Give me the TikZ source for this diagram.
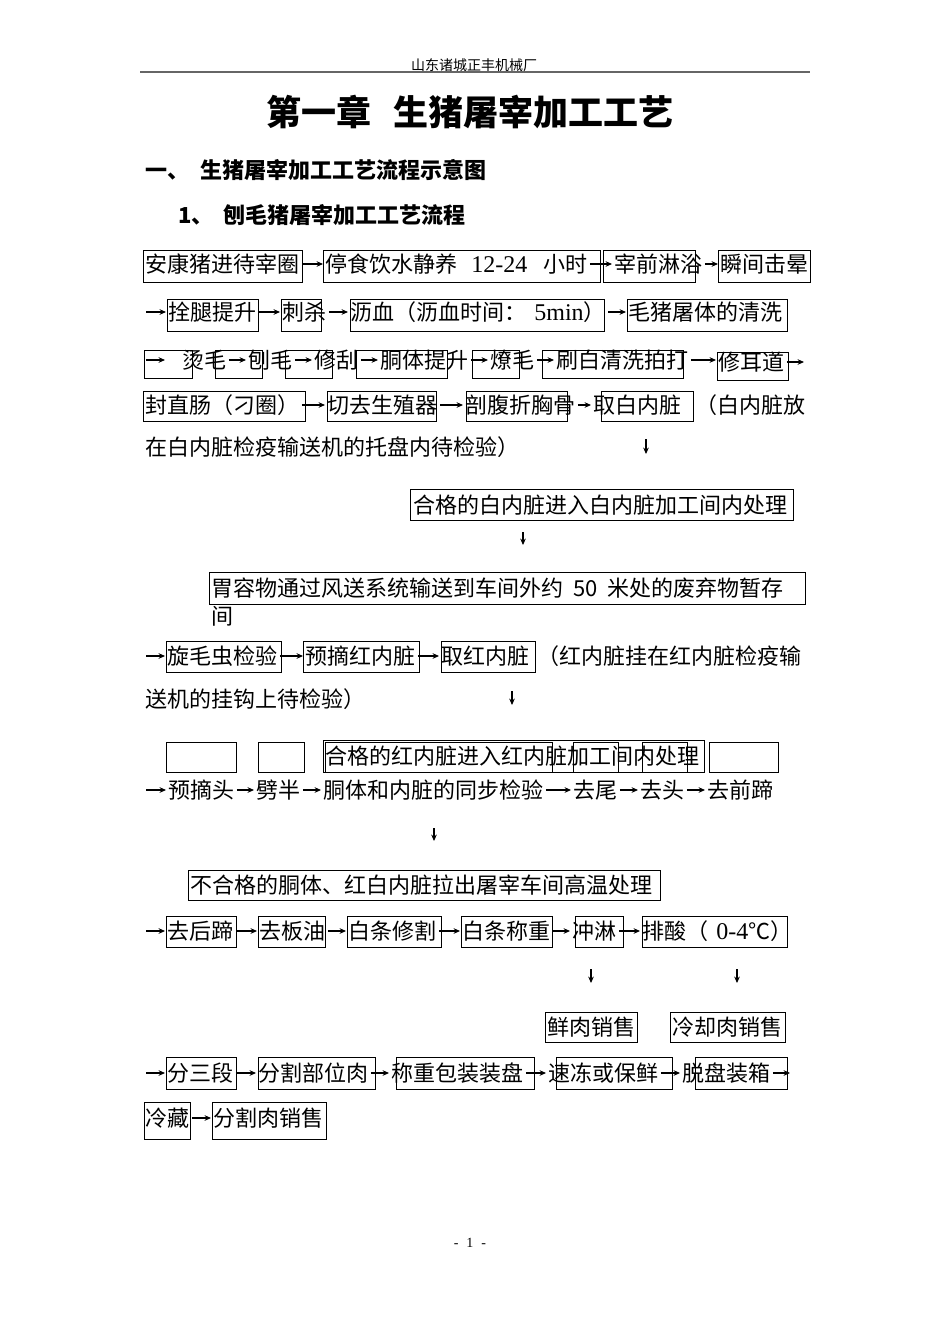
\documentclass[tikz,border=0pt]{standalone}
\usepackage{fontspec}
\setmainfont{Liberation Serif}
\newfontfamily\cjk{Noto Sans CJK SC}
\usetikzlibrary{arrows.meta}
\newcommand\bodyfont{\cjk\fontsize{11}{13}\selectfont}
\newcommand\latn{\rmfamily\fontsize{12}{13}\selectfont}

\begin{document}
\begin{tikzpicture}[x=0.5pt, y=-0.5pt, >={Stealth[length=3.2pt,width=2.8pt]},
    box/.style={draw, line width=0.5pt},
    txt/.style={anchor=west, inner sep=0pt, font=\bodyfont},
    arr/.style={->, line width=0.6pt, shorten <=1pt, shorten >=1pt}]
    \useasboundingbox[fill=white] (0,0) rectangle (950,1344);

    % Header and headings
    \node[inner sep=0pt, font=\cjk\fontsize{7}{8}\selectfont] (head) at (474,65) {山东诸城正丰机械厂};
    \draw[line width=1pt, gray!80!black] (140,72) -- (810,72);
    \node[inner sep=0pt, font=\cjk\bfseries\fontsize{17.5}{20}\selectfont] (title) at (470,112) {第一章\hspace{11.5pt}生猪屠宰加工工艺};
    \node[txt, font=\cjk\bfseries\fontsize{11}{13}\selectfont] (sec) at (145,170) {一、\hspace{5.5pt}生猪屠宰加工工艺流程示意图};
    \node[txt, font=\cjk\bfseries\fontsize{11}{13}\selectfont] (subsec) at (178,215) {1、\hspace{5pt}刨毛猪屠宰加工工艺流程};

    % Row 1
    \draw[box] (143,250) rectangle (302,282);
    \draw[box] (323,250) rectangle (600,282);
    \draw[box] (603,250) rectangle (695,282);
    \draw[box] (718,250) rectangle (810,282);
    \node[txt] (ankang) at (145,264) {安康猪进待宰圈};
    \node[txt] (jingyang) at (325,264) {停食饮水静养\hspace{7pt}{\latn 12-24}\hspace{8pt}小时};
    \node[txt] (linyu) at (614,264) {宰前淋浴};
    \node[txt] (jiyun) at (720,264) {瞬间击晕};
    \draw[arr] (ankang.east) -- (ankang.east -| jingyang.west);
    \draw[arr] (jingyang.east) -- (jingyang.east -| linyu.west);
    \draw[arr] (linyu.east) -- (linyu.east -| jiyun.west);

    % Row 2
    \coordinate (r2) at (144,312);
    \draw[box] (167,299) rectangle (258,331);
    \draw[box] (281,299) rectangle (321,331);
    \draw[box] (350,299) rectangle (604,331);
    \draw[box] (627,299) rectangle (787,331);
    \node[txt] (shuantui) at (168,312) {拴腿提升};
    \node[txt] (cisha) at (282,312) {刺杀};
    \node[txt] (lixue) at (350,312) {沥血（沥血时间：\hspace{4pt}{\latn 5min}）};
    \node[txt] (qingxi) at (628,312) {毛猪屠体的清洗};
    \draw[arr] (r2) -- (r2 -| shuantui.west);
    \draw[arr] (shuantui.east) -- (shuantui.east -| cisha.west);
    \draw[arr] (cisha.east) -- (cisha.east -| lixue.west);
    \draw[arr] (lixue.east) -- (lixue.east -| qingxi.west);

    % Row 3
    \coordinate (r3) at (144,360);
    \coordinate (r3e) at (806,360);
    \draw[box] (144,350) rectangle (192,378);
    \draw[box] (215,350) rectangle (262,378);
    \draw[box] (285,350) rectangle (332,378);
    \draw[box] (356,350) rectangle (447,378);
    \draw[box] (472,350) rectangle (519,378);
    \draw[box] (542,350) rectangle (683,378);
    \draw[box] (717,352) rectangle (788,380);
    \node[txt] (tangmao) at (182,360) {烫毛};
    \node[txt] (baomao) at (248,360) {刨毛};
    \node[txt] (xiugua) at (314,360) {修刮};
    \node[txt] (tisheng) at (380,360) {胴体提升};
    \node[txt] (liaomao) at (490,360) {燎毛};
    \node[txt] (shuabai) at (556,360) {刷白清洗拍打};
    \node[txt] (xiuer) at (718,362) {修耳道};
    \draw[arr] (r3) -- ([xshift=-7.5pt]r3 -| tangmao.west);
    \draw[arr] (tangmao.east) -- (tangmao.east -| baomao.west);
    \draw[arr] (baomao.east) -- (baomao.east -| xiugua.west);
    \draw[arr] (xiugua.east) -- (xiugua.east -| tisheng.west);
    \draw[arr] (tisheng.east) -- (tisheng.east -| liaomao.west);
    \draw[arr] (liaomao.east) -- (liaomao.east -| shuabai.west);
    \draw[arr] (shuabai.east) -- (shuabai.east -| xiuer.west);
    \draw[arr] (xiuer.east) -- (xiuer.east -| r3e);

    % Row 4
    \draw[box] (143,391) rectangle (305,421);
    \draw[box] (327,391) rectangle (436,421);
    \draw[box] (466,391) rectangle (567,421);
    \draw[box] (601,391) rectangle (693,421);
    \node[txt] (fengchang) at (145,405) {封直肠（刁圈）};
    \node[txt] (qiequ) at (327,405) {切去生殖器};
    \node[txt] (poufu) at (465,405) {剖腹折胸骨};
    \node[txt] (qubai) at (593,405) {取白内脏};
    \node[txt] (bainote) at (695,405) {（白内脏放};
    \node[txt] (bainoteb) at (145,447) {在白内脏检疫输送机的托盘内待检验）};
    \draw[arr] (fengchang.east) -- (fengchang.east -| qiequ.west);
    \draw[arr] (qiequ.east) -- (qiequ.east -| poufu.west);
    \draw[arr] (poufu.east) -- (poufu.east -| qubai.west);

    % White offal branch
    \coordinate (d1a) at (646,437);
    \coordinate (d1b) at (646,456);
    \draw[arr] (d1a) -- (d1b);
    \draw[box] (410,489) rectangle (793,520);
    \node[txt] (baihege) at (413,505) {合格的白内脏进入白内脏加工间内处理};
    \coordinate (d2a) at (523,530);
    \coordinate (d2b) at (523,547);
    \draw[arr] (d2a) -- (d2b);
    \draw[box] (209,572) rectangle (805,604);
    \node[txt] (weirong) at (211,588) {胃容物通过风送系统输送到车间外约\hspace{5pt}50\hspace{5pt}米处的废弃物暂存};
    \node[txt] (weirongb) at (211,616) {间};

    % Row 6
    \coordinate (r6) at (144,656);
    \draw[box] (166,641) rectangle (281,672);
    \draw[box] (303,641) rectangle (419,672);
    \draw[box] (441,641) rectangle (535,672);
    \node[txt] (xuanmao) at (167,656) {旋毛虫检验};
    \node[txt] (yuzhai) at (305,656) {预摘红内脏};
    \node[txt] (quhong) at (441,656) {取红内脏};
    \node[txt] (hongnote) at (537,656) {（红内脏挂在红内脏检疫输};
    \node[txt] (hongnoteb) at (145,699) {送机的挂钩上待检验）};
    \draw[arr] (r6) -- (r6 -| xuanmao.west);
    \draw[arr] (xuanmao.east) -- (xuanmao.east -| yuzhai.west);
    \draw[arr] (yuzhai.east) -- (yuzhai.east -| quhong.west);
    \coordinate (d3a) at (512,689);
    \coordinate (d3b) at (512,707);
    \draw[arr] (d3a) -- (d3b);

    % Row 8
    \draw[box] (166,742) rectangle (236,772);
    \draw[box] (258,742) rectangle (304,772);
    \draw[box] (323,740) rectangle (704,772);
    \draw[box] (325,742) rectangle (552,772);
    \draw[box] (573,742) rectangle (618,772);
    \draw[box] (642,742) rectangle (687,772);
    \draw[box] (709,742) rectangle (778,772);
    \node[txt] (honghege) at (325,756) {合格的红内脏进入红内脏加工间内处理};
    \coordinate (r8) at (144,790);
    \node[txt] (yuzhaitou) at (168,790) {预摘头};
    \node[txt] (piban) at (256,790) {劈半};
    \node[txt] (tongbu) at (323,790) {胴体和内脏的同步检验};
    \node[txt] (quwei) at (573,790) {去尾};
    \node[txt] (qutou) at (640,790) {去头};
    \node[txt] (qianti) at (707,790) {去前蹄};
    \draw[arr] (r8) -- (r8 -| yuzhaitou.west);
    \draw[arr] (yuzhaitou.east) -- (yuzhaitou.east -| piban.west);
    \draw[arr] (piban.east) -- (piban.east -| tongbu.west);
    \draw[arr] (tongbu.east) -- (tongbu.east -| quwei.west);
    \draw[arr] (quwei.east) -- (quwei.east -| qutou.west);
    \draw[arr] (qutou.east) -- (qutou.east -| qianti.west);
    \coordinate (d4a) at (434,826);
    \coordinate (d4b) at (434,843);
    \draw[arr] (d4a) -- (d4b);
    \draw[box] (188,870) rectangle (660,900);
    \node[txt] (buhege) at (190,885) {不合格的胴体、红白内脏拉出屠宰车间高温处理};

    % Row 9
    \coordinate (r9) at (144,931);
    \draw[box] (166,916) rectangle (236,947);
    \draw[box] (258,916) rectangle (325,947);
    \draw[box] (347,916) rectangle (441,947);
    \draw[box] (461,916) rectangle (552,947);
    \draw[box] (575,916) rectangle (623,947);
    \draw[box] (642,916) rectangle (787,947);
    \node[txt] (houti) at (167,931) {去后蹄};
    \node[txt] (banyou) at (259,931) {去板油};
    \node[txt] (xiuge) at (348,931) {白条修割};
    \node[txt] (chengzhong) at (462,931) {白条称重};
    \node[txt] (chonglin) at (572,931) {冲淋};
    \node[txt] (paisuan) at (642,931) {排酸（\hspace{4pt}{\latn 0-4}℃）};
    \draw[arr] (r9) -- (r9 -| houti.west);
    \draw[arr] (houti.east) -- (houti.east -| banyou.west);
    \draw[arr] (banyou.east) -- (banyou.east -| xiuge.west);
    \draw[arr] (xiuge.east) -- (xiuge.east -| chengzhong.west);
    \draw[arr] (chengzhong.east) -- (chengzhong.east -| chonglin.west);
    \draw[arr] (chonglin.east) -- (chonglin.east -| paisuan.west);

    % Sales
    \coordinate (d5a) at (591,967);
    \coordinate (d5b) at (591,985);
    \coordinate (d6a) at (737,967);
    \coordinate (d6b) at (737,985);
    \draw[arr] (d5a) -- (d5b);
    \draw[arr] (d6a) -- (d6b);
    \draw[box] (545,1012) rectangle (637,1042);
    \draw[box] (670,1012) rectangle (785,1042);
    \node[txt] (xianrou) at (547,1027) {鲜肉销售};
    \node[txt] (lengque) at (672,1027) {冷却肉销售};

    % Row 10
    \coordinate (r10) at (144,1073);
    \coordinate (r10e) at (792,1073);
    \draw[box] (166,1057) rectangle (236,1089);
    \draw[box] (258,1057) rectangle (375,1089);
    \draw[box] (396,1057) rectangle (534,1089);
    \draw[box] (556,1057) rectangle (672,1089);
    \draw[box] (695,1057) rectangle (787,1089);
    \node[txt] (sanduan) at (167,1073) {分三段};
    \node[txt] (buwei) at (258,1073) {分割部位肉};
    \node[txt] (baozhuang) at (391,1073) {称重包装装盘};
    \node[txt] (sudong) at (548,1073) {速冻或保鲜};
    \node[txt] (tuopan) at (682,1073) {脱盘装箱};
    \draw[arr] (r10) -- (r10 -| sanduan.west);
    \draw[arr] (sanduan.east) -- (sanduan.east -| buwei.west);
    \draw[arr] (buwei.east) -- (buwei.east -| baozhuang.west);
    \draw[arr] (baozhuang.east) -- (baozhuang.east -| sudong.west);
    \draw[arr] (sudong.east) -- (sudong.east -| tuopan.west);
    \draw[arr] (tuopan.east) -- (tuopan.east -| r10e);

    % Row 11
    \draw[box] (144,1102) rectangle (190,1139);
    \draw[box] (212,1102) rectangle (326,1139);
    \node[txt] (lengcang) at (145,1118) {冷藏};
    \node[txt] (fenge) at (213,1118) {分割肉销售};
    \draw[arr] (lengcang.east) -- (lengcang.east -| fenge.west);

    % Page number
    \node[inner sep=0pt, font=\rmfamily\fontsize{7}{8}\selectfont] (page) at (470,1243) {-\hspace{4pt}1\hspace{4pt}-};
\end{tikzpicture}
\end{document}
